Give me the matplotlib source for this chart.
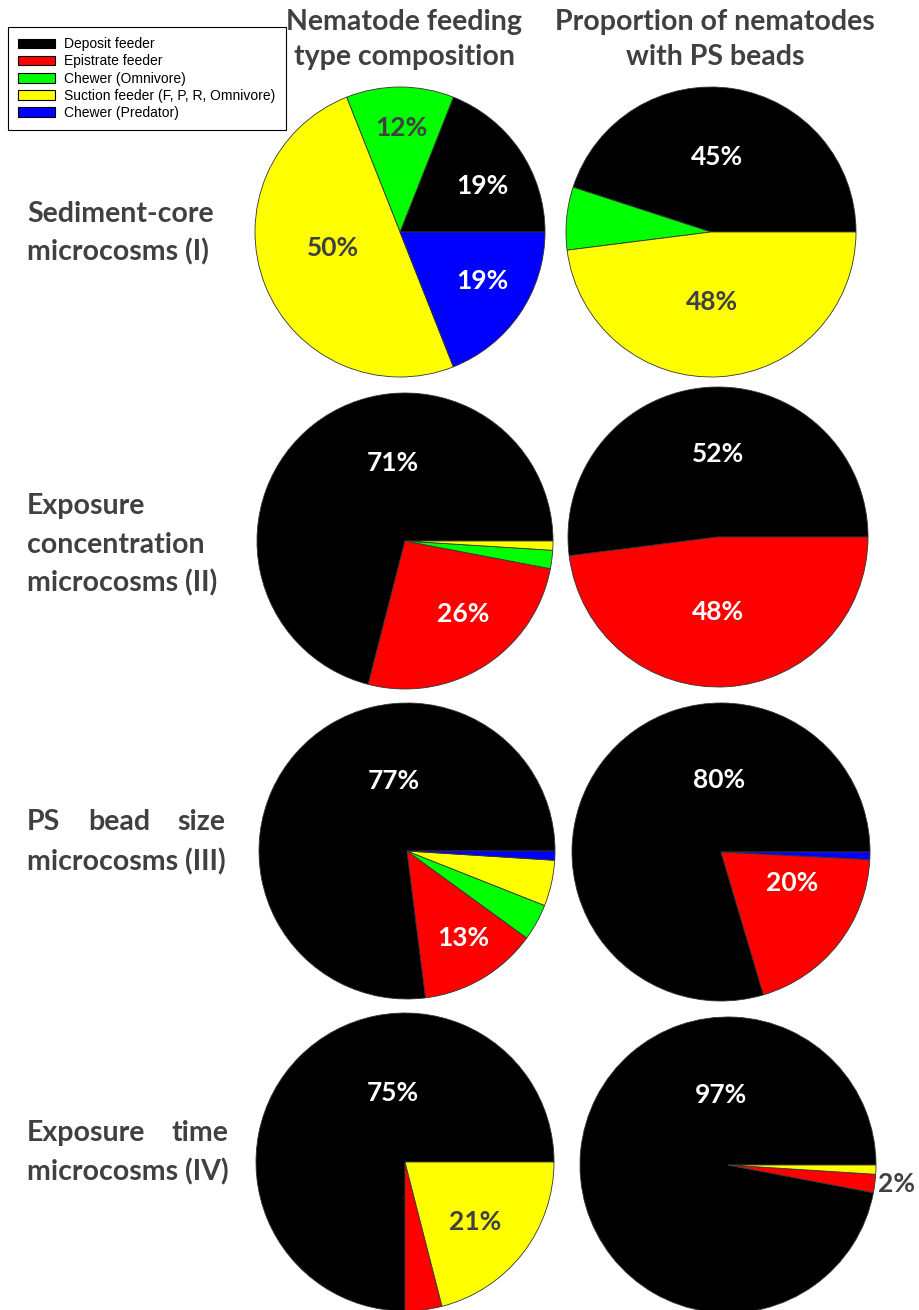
"""Two-column grid of pie charts: nematode feeding-type composition and the
share of nematodes with ingested PS beads, for four microcosm experiments."""
import matplotlib
matplotlib.use("Agg")
import matplotlib.pyplot as plt
from matplotlib.patches import Patch

W, H = 919, 1310

CATEGORIES = ["Deposit feeder", "Epistrate feeder", "Chewer (Omnivore)",
              "Suction feeder (F, P, R, Omnivore)", "Chewer (Predator)"]
COLORS = ["#000000", "#ff0000", "#00ff00", "#ffff00", "#0000ff"]

COL_TITLES = [["Nematode feeding", "type composition"],
              ["Proportion of nematodes", "with PS beads"]]

# % per feeding type, same order as CATEGORIES
COMPOSITION = [
    [19, 0, 12, 50, 19],
    [71, 26, 2, 1, 0],
    [77, 13, 4, 5, 1],
    [75, 4, 0, 21, 0],
]
WITH_BEADS = [
    [45, 0, 7, 48, 0],
    [52, 48, 0, 0, 0],
    [79.6, 19.6, 0, 0, 0.8],
    [97, 2, 0, 1, 0],
]

TEXT_GREY = "#404040"
plt.rcParams["font.family"] = ["Lato", "DejaVu Sans"]

# pie centre x, centre y, radius (pixels)
PIE_BOXES = [
    [(400, 232, 145), (711, 232, 145)],
    [(405, 541, 148), (718, 537, 150)],
    [(407, 851, 148), (721, 852, 149)],
    [(405, 1162, 149), (728, 1165, 148)],
]

# where each value label goes: (category, x, y) in pie radii from the centre
LABEL_POS = {
    (0, 0): [(0, 0.57, 0.32), (2, 0.01, 0.72), (3, -0.46, -0.11), (4, 0.57, -0.34)],
    (0, 1): [(0, 0.04, 0.52), (3, 0.01, -0.48)],
    (1, 0): [(0, -0.08, 0.53), (1, 0.39, -0.49)],
    (1, 1): [(0, 0.0, 0.55), (1, 0.0, -0.50)],
    (2, 0): [(0, -0.09, 0.47), (1, 0.38, -0.59)],
    (2, 1): [(0, -0.01, 0.48), (1, 0.48, -0.21)],
    (3, 0): [(0, -0.08, 0.46), (3, 0.47, -0.40)],
    (3, 1): [(0, -0.05, 0.47), (1, 1.14, -0.13)],
}


def fy(py):
    return 1 - py / H


def draw_pie(fig, values, box, labels):
    cx, cy, r = box
    ax = fig.add_axes([(cx - r) / W, 1 - (cy + r) / H, 2 * r / W, 2 * r / H])
    keep = [i for i, v in enumerate(values) if v > 0]
    ax.pie([values[i] for i in keep], colors=[COLORS[i] for i in keep],
           startangle=0, counterclock=True, radius=1,
           wedgeprops=dict(edgecolor="#333333", linewidth=0.6))
    ax.set_xlim(-1, 1)
    ax.set_ylim(-1, 1)
    ax.axis("off")
    for cat, x, y in labels:
        inside = (x * x + y * y) < 1
        color = "white" if (inside and cat in (0, 1, 4)) else TEXT_GREY
        ax.text(x, y, f"{values[cat]:.0f}%", ha="center", va="center",
                fontsize=19, fontweight="bold", color=color, clip_on=False)
    return ax


def justify(fig, words, x0, width, py, **kw):
    texts = [fig.text(x0 / W, fy(py), w, ha="left", va="center", **kw) for w in words]
    fig.canvas.draw()
    rend = fig.canvas.get_renderer()
    widths = [t.get_window_extent(rend).width for t in texts]
    gap = (width - sum(widths)) / (len(words) - 1)
    x = x0
    for t, w in zip(texts, widths):
        t.set_x(x / W)
        x += w + gap


fig = plt.figure(figsize=(W / 100, H / 100), dpi=100)

for row in range(4):
    for col, data in enumerate([COMPOSITION, WITH_BEADS]):
        draw_pie(fig, data[row], PIE_BOXES[row][col], LABEL_POS[(row, col)])

# column headings
title_kw = dict(ha="center", va="center", fontsize=20.5, fontweight="bold", color=TEXT_GREY)
for title, xc in zip(COL_TITLES, [404, 715]):
    fig.text(xc / W, fy(22), title[0], **title_kw)
    fig.text(xc / W, fy(57), title[1], **title_kw)

# row labels
row_kw = dict(fontsize=20.5, fontweight="bold", color=TEXT_GREY)
X0 = 27
fig.text(X0 / W, fy(214), "Sediment-core", ha="left", va="center", **row_kw)
fig.text(X0 / W, fy(252), "microcosms (I)", ha="left", va="center", **row_kw)

fig.text(X0 / W, fy(506), "Exposure", ha="left", va="center", **row_kw)
fig.text(X0 / W, fy(545), "concentration", ha="left", va="center", **row_kw)
fig.text(X0 / W, fy(583), "microcosms (II)", ha="left", va="center", **row_kw)

t3 = fig.text(X0 / W, fy(862), "microcosms (III)", ha="left", va="center", **row_kw)
t4 = fig.text(X0 / W, fy(1172), "microcosms (IV)", ha="left", va="center", **row_kw)
fig.canvas.draw()
rend = fig.canvas.get_renderer()
justify(fig, ["PS", "bead", "size"], X0, t3.get_window_extent(rend).width, 822, **row_kw)
justify(fig, ["Exposure", "time"], X0, t4.get_window_extent(rend).width, 1133, **row_kw)

handles = [Patch(facecolor=c, edgecolor="black", linewidth=0.8) for c in COLORS]
leg = fig.legend(handles, CATEGORIES, loc="upper left",
                 bbox_to_anchor=(8 / W, fy(27)), borderaxespad=0,
                 frameon=True, fancybox=False, edgecolor="black", framealpha=1,
                 prop=dict(family="Liberation Sans", size=10),
                 handlelength=2.6, handleheight=0.7, handletextpad=0.7,
                 labelspacing=0.22, borderpad=0.75)
leg.get_frame().set_linewidth(0.8)

fig.savefig("out.png", dpi=100)
